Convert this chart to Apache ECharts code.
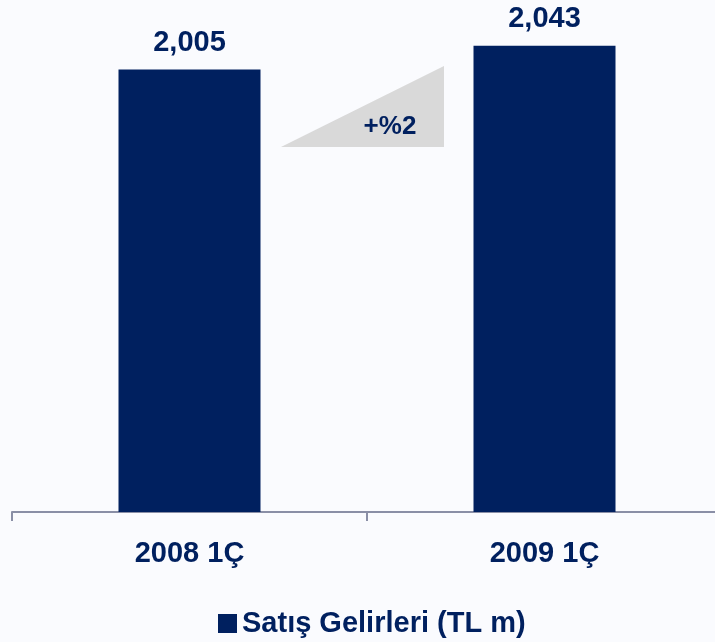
<!DOCTYPE html>
<html>
<head>
<meta charset="utf-8">
<script src="https://cdn.jsdelivr.net/npm/echarts@6/dist/echarts.min.js"></script>
<style>
  html, body { margin: 0; padding: 0; background: #fafbfe; overflow: hidden; }
  #chart { width: 722px; height: 642px; }
</style>
</head>
<body>
<div id="chart"></div>
<script>
const categories = ['2008 1Ç', '2009 1Ç']
const salesValues = [2005, 2043]
const seriesName = 'Satış Gelirleri (TL m)'
const growthLabel = '+%2'

const navy = '#00205f'
const font = '"Liberation Sans", Arial, sans-serif'

const chart = echarts.init(document.getElementById('chart'), null, { renderer: 'canvas' })

const option = {
  backgroundColor: '#fafbfe',
  textStyle: { fontFamily: font },
  grid: { left: 12, right: 0, top: 10, bottom: 130 },
  legend: {
    data: [seriesName],
    top: 604,
    left: 213,
    icon: 'rect',
    itemWidth: 19,
    itemHeight: 19,
    textStyle: { color: navy, fontSize: 29, fontWeight: 'bold', fontFamily: font }
  },
  xAxis: {
    type: 'category',
    data: categories,
    axisLine: { lineStyle: { color: '#8a8fa6', width: 2 } },
    axisTick: { show: true, interval: 0, length: 9, lineStyle: { color: '#8a8fa6', width: 2 } },
    axisLabel: { color: navy, fontSize: 29, fontWeight: 'bold', margin: 27, fontFamily: font }
  },
  yAxis: {
    type: 'value',
    min: 1300,
    max: 2100,
    show: false,
    splitLine: { show: false }
  },
  graphic: [
    {
      type: 'polygon',
      shape: { points: [[281, 147], [444, 66], [444, 147]] },
      style: { fill: '#d9d9d9' }
    },
    {
      type: 'text',
      x: 390,
      y: 127,
      style: {
        text: growthLabel,
        fill: navy,
        font: 'bold 26px ' + font,
        textAlign: 'center',
        textVerticalAlign: 'middle'
      }
    }
  ],
  series: [
    {
      name: seriesName,
      type: 'bar',
      data: salesValues,
      barWidth: '40%',
      itemStyle: { color: navy },
      label: {
        show: true,
        position: 'top',
        distance: 12,
        color: navy,
        fontSize: 29,
        fontWeight: 'bold',
        fontFamily: font,
        formatter: (p) => p.value.toLocaleString('en-US')
      }
    }
  ]
}

chart.setOption(option)
</script>
</body>
</html>
